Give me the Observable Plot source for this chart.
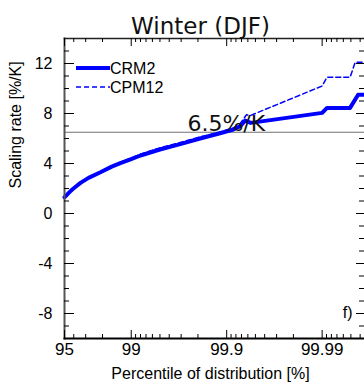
<!DOCTYPE html>
<html><head><meta charset="utf-8">
<script src="https://cdn.jsdelivr.net/npm/d3@7"></script>
<script src="https://cdn.jsdelivr.net/npm/@observablehq/plot@0.6"></script>
<style>html,body{margin:0;padding:0;background:#fff;} svg{display:block;}</style>
</head><body><div id="chart"></div>
<script>
// ---- data ----
const percentilesCRM2 = [95, 95.25, 95.46, 95.68, 95.88, 96.26, 96.6, 97.2, 97.9, 98.4, 98.7, 99.0, 99.2, 99.5, 99.7, 99.81, 99.88, 99.915, 99.928, 99.936, 99.944, 99.99, 99.9911, 99.9949, 99.9958, 99.9964];
const valuesCRM2      = [1.3, 1.47, 1.63, 1.79, 1.94, 2.2, 2.45, 2.85, 3.3, 3.75, 4.03, 4.35, 4.64, 5.12, 5.57, 6.0, 6.4, 6.72, 6.98, 7.44, 7.25, 8.05, 8.45, 8.45, 9.5, 9.5];
const percentilesCPM12 = [95, 95.25, 95.46, 95.68, 95.88, 96.26, 96.6, 97.2, 97.9, 98.4, 98.7, 99.0, 99.2, 99.5, 99.7, 99.81, 99.88, 99.915, 99.928, 99.938, 99.944, 99.99, 99.9911, 99.9949, 99.9955, 99.9964];
const valuesCPM12      = [1.3, 1.47, 1.64, 1.8, 1.95, 2.22, 2.47, 2.88, 3.34, 3.8, 4.1, 4.44, 4.75, 5.25, 5.7, 6.12, 6.5, 6.85, 7.2, 7.9, 7.85, 10.2, 10.9, 10.9, 12.1, 12.1];
const xMajorTicks = [95, 99, 99.9, 99.99];
const xTickLabels = ["95", "99", "99.9", "99.99"];
const xMinorTicks = [96, 97, 98, 99.1, 99.2, 99.3, 99.4, 99.5, 99.6, 99.7, 99.8, 99.91, 99.92, 99.93, 99.94, 99.95, 99.96, 99.97, 99.98, 99.991, 99.992, 99.993, 99.994, 99.995, 99.996];
const yMajorTicks = [-8, -4, 0, 4, 8, 12];
const yMinorTicks = [-9, -7, -6, -5, -3, -2, -1, 1, 2, 3, 5, 6, 7, 9, 10, 11, 13];
const referenceRate = 6.5;
const referenceLabel = "6.5%/K";
const referenceLabelPercentile = 99.742;
const seriesNames = ["CRM2", "CPM12"];
const titleText = "Winter (DJF)";
const xLabel = "Percentile of distribution [%]";
const yLabel = "Scaling rate [%/K]";
const panelTag = "f)";

// ---- build ----
const W = 364, H = 389, mL = 64, mR = 0, mT = 38, mB = 51;
const frameH = H - mT - mB, frameW = W - mL - mR;
const ex = p => 100 - p;
const crm2 = percentilesCRM2.map((p, i) => ({p, v: valuesCRM2[i]}));
const cpm12 = percentilesCPM12.map((p, i) => ({p, v: valuesCPM12[i]}));
const blue = "#0000ff";
const labFont = "Liberation Sans, Arial, Helvetica, sans-serif";
const titleFont = "DejaVu Sans, sans-serif";

const legendMark = (index, scales, values, dimensions) => {
  const g = d3.create("svg:g");
  const x0 = dimensions.marginLeft + 12, x1 = dimensions.marginLeft + 46;
  const rows = [{y: dimensions.marginTop + 30, w: 4, dash: null}, {y: dimensions.marginTop + 49, w: 1.5, dash: "5,3"}];
  rows.forEach((r, i) => {
    g.append("line").attr("x1", x0).attr("x2", x1).attr("y1", r.y).attr("y2", r.y)
      .attr("stroke", blue).attr("stroke-width", r.w).attr("stroke-dasharray", r.dash);
    g.append("text").attr("x", x1).attr("y", r.y).attr("dy", "0.36em")
      .attr("text-anchor", "start")
      .attr("font-family", labFont).attr("font-size", 16).attr("fill", "#000").text(seriesNames[i]);
  });
  return g.node();
};

const chart = Plot.plot({
  width: W, height: H,
  marginLeft: mL, marginRight: mR, marginTop: mT, marginBottom: mB,
  style: {background: "#fff", overflow: "visible"},
  x: {type: "log", domain: [5, 0.0036], axis: null},
  y: {domain: [-10, 14], axis: null},
  marks: [
    Plot.ruleY([referenceRate], {stroke: "#707070", strokeWidth: 1.2}),
    Plot.line(crm2, {x: d => ex(d.p), y: "v", stroke: blue, strokeWidth: 4, strokeLinejoin: "round"}),
    Plot.line(cpm12, {x: d => ex(d.p), y: "v", stroke: blue, strokeWidth: 1.5, strokeDasharray: "5,3"}),
    // frame
    Plot.frame({anchor: "left", stroke: "#555", strokeWidth: 2}),
    Plot.frame({anchor: "bottom", stroke: "#000", strokeWidth: 2}),
    Plot.frame({anchor: "top", stroke: "#222", strokeWidth: 1.5}),
    // x ticks bottom & top
    Plot.tickX(xMajorTicks, {x: ex, insetTop: frameH - 8, stroke: "#000"}),
    Plot.tickX(xMinorTicks, {x: ex, insetTop: frameH - 4, stroke: "#000"}),
    Plot.tickX(xMajorTicks, {x: ex, insetBottom: frameH - 8, stroke: "#000"}),
    Plot.tickX(xMinorTicks, {x: ex, insetBottom: frameH - 4, stroke: "#000"}),
    // y ticks left & right
    Plot.tickY(yMajorTicks, {y: d => d, insetRight: frameW - 10, stroke: "#000"}),
    Plot.tickY(yMinorTicks, {y: d => d, insetRight: frameW - 5, stroke: "#000"}),
    Plot.tickY(yMajorTicks, {y: d => d, insetLeft: frameW - 8, stroke: "#000"}),
    Plot.tickY(yMinorTicks, {y: d => d, insetLeft: frameW - 5, stroke: "#000"}),
    // tick labels
    Plot.text(xMajorTicks, {x: ex, frameAnchor: "bottom", dy: 16, text: (d, i) => xTickLabels[i], fontSize: 17, fontFamily: labFont, fill: "#000"}),
    Plot.text(yMajorTicks, {y: d => d, frameAnchor: "left", dx: -12, textAnchor: "end", text: d => String(d), fontSize: 16, fontFamily: labFont, fill: "#000"}),
    // axis labels
    Plot.text([xLabel], {frameAnchor: "bottom", dx: -4, dy: 40, fontSize: 16, fontFamily: labFont, fill: "#000"}),
    Plot.text([yLabel], {frameAnchor: "left", dx: -49, rotate: -90, fontSize: 16, fontFamily: labFont, fill: "#000"}),
    // title
    Plot.text([titleText], {frameAnchor: "top", dx: -14, dy: -21, fontSize: 23, fontFamily: titleFont, fill: "#111"}),
    // reference label
    Plot.text([referenceLabel], {x: ex(referenceLabelPercentile), y: referenceRate, textAnchor: "start", lineAnchor: "bottom", dy: -1, fontSize: 22, fontFamily: titleFont, fill: "#111"}),
    // panel tag
    Plot.text([panelTag], {frameAnchor: "bottom-right", dx: -12, dy: -21, textAnchor: "end", fontSize: 16, fontFamily: labFont, fill: "#000"}),
    legendMark
  ]
});
document.getElementById("chart").appendChild(chart);
</script>
</body></html>
